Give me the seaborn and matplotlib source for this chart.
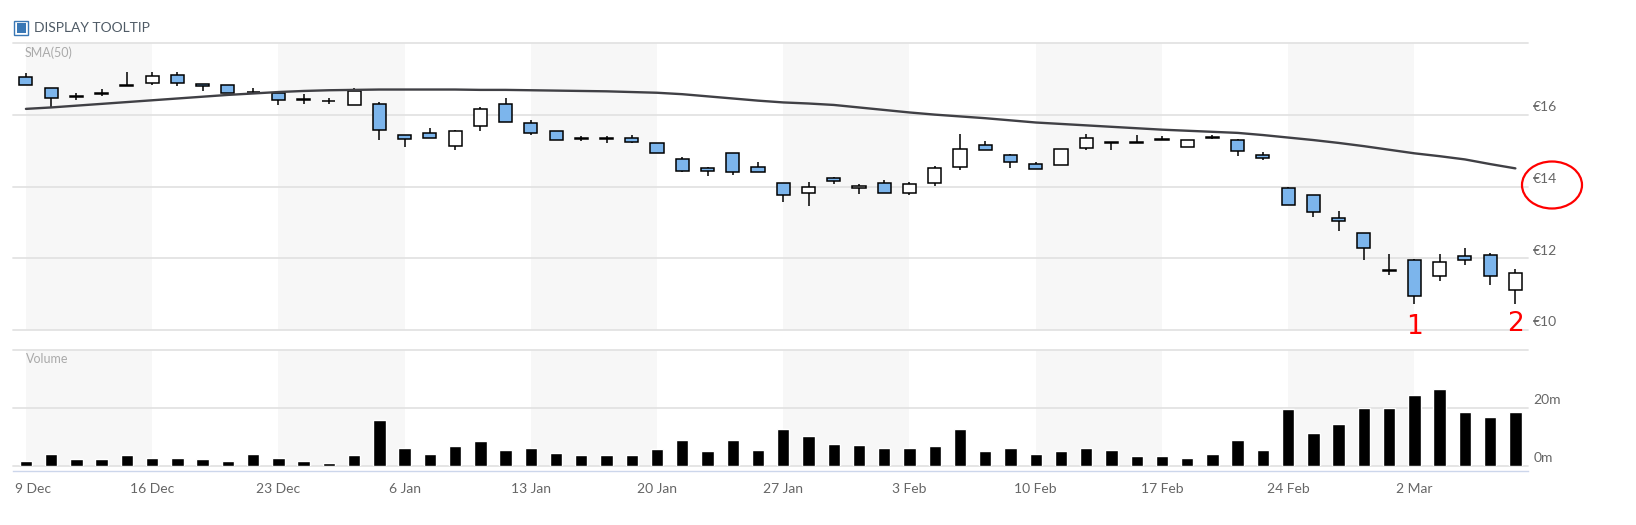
import numpy as np
import pandas as pd
import matplotlib
matplotlib.use('Agg')
import matplotlib.pyplot as plt
import matplotlib.transforms as mtransforms
from matplotlib.patches import Rectangle, Ellipse
import seaborn as sns

sns.set_style('white')
plt.rcParams['font.family'] = ['Lato', 'DejaVu Sans']

#%% DATA (one candle per trading day)

week_labels = ['9 Dec', '16 Dec', '23 Dec', '6 Jan', '13 Jan', '20 Jan',
               '27 Jan', '3 Feb', '10 Feb', '17 Feb', '24 Feb', '2 Mar']

opens = [17.05, 16.76, 16.52, 16.62, 16.83, 16.89, 17.12, 16.87, 16.84, 16.65,
         16.60, 16.44, 16.40, 16.27, 16.31, 15.43, 15.51, 15.14, 15.70, 16.30,
         15.79, 15.54, 15.35, 15.35, 15.36, 15.23, 14.76, 14.53, 14.95, 14.55,
         14.10, 13.81, 14.25, 13.95, 14.10, 13.81, 14.09, 14.54, 15.15, 14.87,
         14.63, 14.61, 15.08, 15.24, 15.25, 15.32, 15.11, 15.38, 15.29, 14.88,
         13.96, 13.78, 13.13, 12.71, 11.68, 11.96, 11.50, 12.07, 12.10, 11.11]
highs = [17.16, 16.76, 16.60, 16.72, 17.19, 17.19, 17.19, 16.87, 16.84, 16.76,
         16.62, 16.58, 16.48, 16.76, 16.37, 15.44, 15.65, 15.58, 16.22, 16.46,
         15.86, 15.54, 15.42, 15.42, 15.43, 15.23, 14.84, 14.55, 14.95, 14.70,
         14.11, 14.13, 14.28, 14.08, 14.18, 14.12, 14.57, 15.48, 15.26, 14.91,
         14.70, 15.05, 15.48, 15.24, 15.44, 15.40, 15.29, 15.43, 15.34, 14.97,
         14.00, 13.78, 13.33, 12.72, 12.12, 11.97, 12.12, 12.29, 12.14, 11.70]
lows = [16.83, 16.19, 16.43, 16.53, 16.80, 16.84, 16.82, 16.68, 16.60, 16.59,
        16.28, 16.32, 16.32, 16.27, 15.30, 15.11, 15.36, 15.02, 15.55, 15.81,
        15.44, 15.31, 15.26, 15.23, 15.21, 14.94, 14.40, 14.29, 14.33, 14.41,
        13.57, 13.46, 14.07, 13.80, 13.81, 13.77, 14.01, 14.47, 15.01, 14.51,
        14.48, 14.61, 15.02, 15.01, 15.23, 15.30, 15.11, 15.32, 14.85, 14.75,
        13.49, 13.14, 12.75, 11.95, 11.53, 10.73, 11.38, 11.80, 11.25, 10.73]
closes = [16.83, 16.48, 16.51, 16.58, 16.81, 17.08, 16.89, 16.80, 16.62, 16.63,
          16.43, 16.42, 16.38, 16.66, 15.57, 15.32, 15.36, 15.54, 16.17, 15.81,
          15.49, 15.31, 15.33, 15.33, 15.24, 14.94, 14.44, 14.44, 14.41, 14.41,
          13.78, 14.00, 14.17, 14.03, 13.81, 14.07, 14.53, 15.05, 15.01, 14.69,
          14.48, 15.05, 15.37, 15.22, 15.23, 15.30, 15.29, 15.36, 15.00, 14.80,
          13.49, 13.29, 13.04, 12.28, 11.66, 10.94, 11.90, 11.95, 11.50, 11.59]
sma50 = [16.17, 16.21, 16.26, 16.31, 16.36, 16.41, 16.46, 16.51, 16.56, 16.60,
         16.64, 16.67, 16.69, 16.70, 16.71, 16.71, 16.71, 16.71, 16.70, 16.70,
         16.69, 16.68, 16.67, 16.66, 16.64, 16.62, 16.58, 16.52, 16.46, 16.40,
         16.35, 16.32, 16.28, 16.21, 16.14, 16.07, 16.01, 15.96, 15.91, 15.85,
         15.79, 15.75, 15.71, 15.67, 15.63, 15.59, 15.56, 15.53, 15.50, 15.44,
         15.37, 15.30, 15.22, 15.13, 15.03, 14.93, 14.85, 14.76, 14.63, 14.51]
volume_m = [1.7, 4.1, 2.2, 2.2, 3.6, 2.7, 2.7, 2.2, 1.7, 4.1,
            2.7, 1.7, 0.9, 3.6, 15.8, 6.2, 4.1, 6.6, 8.4, 5.4,
            6.2, 4.5, 3.5, 3.5, 3.5, 5.8, 8.9, 4.9, 8.9, 5.4,
            12.5, 10.2, 7.6, 7.2, 5.9, 5.9, 6.7, 12.5, 4.9, 6.2,
            4.0, 4.9, 6.2, 5.4, 3.2, 3.2, 2.7, 4.0, 8.9, 5.4,
            19.5, 11.4, 14.2, 20.0, 20.0, 24.4, 26.5, 18.6, 16.8, 18.6]

price_levels = [10, 12, 14, 16, 18]
volume_levels = [0, 20, 40]

df = pd.DataFrame({'open': opens, 'high': highs, 'low': lows,
                   'close': closes, 'sma': sma50, 'volume': volume_m})
df['idx'] = np.arange(len(df))
df['up'] = df['close'] >= df['open']
n = len(df)

#%% LAYOUT (pixel boxes of the original 1636x525 screenshot)

W, H = 1636, 525
fig = plt.figure(figsize=(W / 100, H / 100), dpi=100)

def box(l, t, r, b):
    return [l / W, 1 - b / H, (r - l) / W, (b - t) / H]

ax_p = fig.add_axes(box(13.3, 43.3, 1528, 330))
ax_v = fig.add_axes(box(13.3, 350, 1528, 465.5))

grid_col = '#e3e3e3'
label_col = '#666666'

for ax in (ax_p, ax_v):
    ax.set_xlim(-0.5, n - 0.5)
    for k in range(0, n, 10):
        ax.axvspan(k, k + 5, color='#f7f7f7', lw=0, zorder=0)
    for s in ('top', 'left', 'right'):
        ax.spines[s].set_visible(False)
    ax.set_yticks([])

#%% PRICE PANEL

ax_p.set_ylim(price_levels[0], price_levels[-1])
for v in price_levels:
    ax_p.axhline(v, color=grid_col, lw=1.3, zorder=0.5, clip_on=False)
ax_p.spines['bottom'].set_visible(False)
ax_p.set_xticks([])

# wicks then bodies
ax_p.vlines(df['idx'], df['low'], df['high'], color='black', lw=1.1, zorder=2)
body_h = (df['close'] - df['open']).abs().clip(lower=0.004)
body_b = df[['open', 'close']].min(axis=1)
fill = np.where(df['up'], 'white', '#7cb5ec')
ax_p.bar(df['idx'], body_h, bottom=body_b, width=0.52, color=fill,
         edgecolor='black', linewidth=1.1, zorder=3)

sns.lineplot(data=df, x='idx', y='sma', color='#404045', lw=1.7, ax=ax_p,
             zorder=5)
ax_p.set_xlabel('')
ax_p.set_ylabel('')

for v in price_levels[:-1]:
    ax_p.annotate('€%d' % v, xy=(1, v), xycoords=ax_p.get_yaxis_transform(),
                  xytext=(3.8, 5.6), textcoords='offset points',
                  ha='left', va='center', fontsize=10, color=label_col)
ax_p.annotate('SMA(50)', xy=(0, 1), xycoords='axes fraction',
              xytext=(8.4, -6.8), textcoords='offset points',
              ha='left', va='center', fontsize=9, color='#aaaaaa')

#%% VOLUME PANEL

sns.barplot(data=df, x='idx', y='volume', color='black', saturation=1,
            width=0.49, errorbar=None, ax=ax_v, zorder=3)
ax_v.set_xlim(-0.5, n - 0.5)
ax_v.set_ylim(volume_levels[0], volume_levels[-1])
ax_v.set_yticks([])
for v in volume_levels:
    ax_v.axhline(v, color=grid_col, lw=1.3, zorder=0.5, clip_on=False)
ax_v.set_xlabel('')
ax_v.set_ylabel('')

for v in volume_levels[:-1]:
    ax_v.annotate('%dm' % v, xy=(1, v), xycoords=ax_v.get_yaxis_transform(),
                  xytext=(3.8, 5.6), textcoords='offset points',
                  ha='left', va='center', fontsize=10, color=label_col)
ax_v.annotate('Volume', xy=(0, 1), xycoords='axes fraction',
              xytext=(9.1, -6.3), textcoords='offset points',
              ha='left', va='center', fontsize=9, color='#aaaaaa')

# x axis: light blue line a few px under the zero line, ticks every week
ax_v.spines['bottom'].set_position(('outward', 3.6))
ax_v.spines['bottom'].set_color('#ccd6eb')
ax_v.spines['bottom'].set_linewidth(1)
ax_v.set_xticks(range(0, n, 5))
ax_v.set_xticklabels(week_labels)
ax_v.tick_params(axis='x', direction='out', length=7.2, width=1,
                 color='#ccd6eb', labelcolor=label_col, labelsize=10, pad=1.5)
first = ax_v.xaxis.get_major_ticks()[0].label1
first.set_horizontalalignment('left')
first.set_transform(first.get_transform() +
                    mtransforms.ScaledTranslation(-0.11, 0, fig.dpi_scale_trans))

#%% HEADER + hand annotations

fig.patches.append(Rectangle((13.5 / W, 1 - 35 / H), 14 / W, 14 / H,
                             transform=fig.transFigure, fill=False,
                             edgecolor='#3a78b5', lw=1))
fig.patches.append(Rectangle((16.5 / W, 1 - 32.5 / H), 9 / W, 9.5 / H,
                             transform=fig.transFigure, facecolor='#3a78b5',
                             edgecolor='none'))
fig.text(34 / W, 1 - 27.5 / H, 'DISPLAY TOOLTIP', fontsize=10,
         color='#4f5b66', ha='left', va='center')

fig.patches.append(Ellipse((1552 / W, 1 - 185 / H), 60 / W, 47 / H,
                           transform=fig.transFigure, fill=False,
                           edgecolor='red', lw=1.6))
ax_p.text(55, 10.08, '1', color='red', fontsize=19, ha='center', va='center',
          family='DejaVu Sans', clip_on=False, zorder=6)
ax_p.text(59, 10.17, '2', color='red', fontsize=19, ha='center', va='center',
          family='DejaVu Sans', clip_on=False, zorder=6)

fig.savefig('out.png', dpi=100)
